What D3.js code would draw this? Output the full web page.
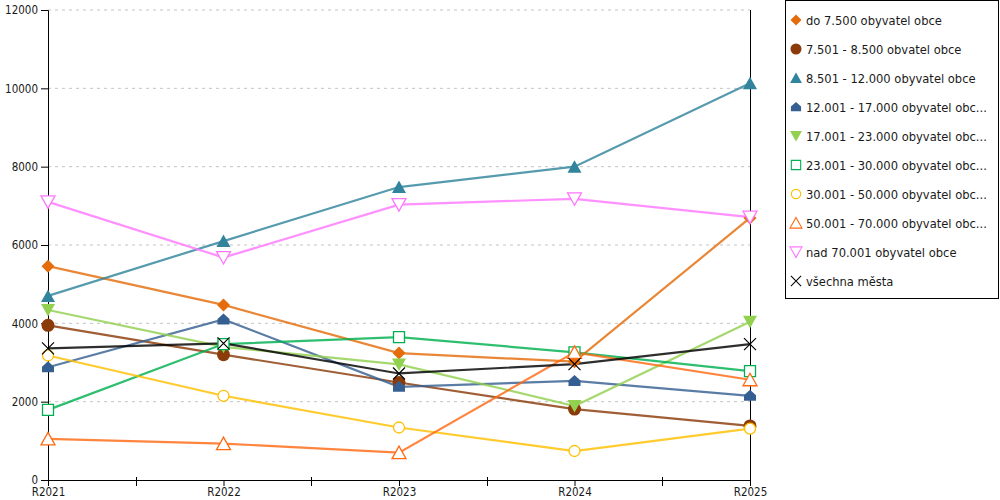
<!DOCTYPE html>
<meta charset="utf-8">
<script src="https://d3js.org/d3.v7.min.js"></script>
<style>
  body { margin: 0; background: #fff; }
  text { font-family: "DejaVu Sans Condensed", "DejaVu Sans", sans-serif; font-size: 11px; fill: #1a1a1a; }
</style>
<div id="chart"></div>
<script>

// data
var years = ["R2021", "R2022", "R2023", "R2024", "R2025"];
var yTicks = [0, 2000, 4000, 6000, 8000, 10000, 12000];

var seriesNames = [
  "do 7.500 obyvatel obce",
  "7.501 - 8.500 obvatel obce",
  "8.501 - 12.000 obyvatel obce",
  "12.001 - 17.000 obyvatel obc...",
  "17.001 - 23.000 obyvatel obc...",
  "23.001 - 30.000 obyvatel obc...",
  "30.001 - 50.000 obyvatel obc...",
  "50.001 - 70.000 obyvatel obc...",
  "nad 70.001 obyvatel obce",
  "všechna města"
];

var s1 = [5460, 4470, 3240, 3020, 6690];
var s2 = [3950, 3200, 2490, 1810, 1380];
var s3 = [4700, 6100, 7480, 8000, 10130];
var s4 = [2880, 4100, 2380, 2530, 2150];
var s5 = [4340, 3400, 2950, 1890, 4040];
var s6 = [1790, 3470, 3650, 3260, 2780];
var s7 = [3180, 2150, 1340, 740, 1310];
var s8 = [1050, 930, 700, 3260, 2560];
var s9 = [7100, 5680, 7030, 7180, 6710];
var s10 = [3360, 3490, 2720, 2960, 3470];

var values = [s1, s2, s3, s4, s5, s6, s7, s8, s9, s10];
var colors = ["#e46c0a", "#8b3a0a", "#31849b", "#365f91", "#92d050",
              "#00b050", "#ffc000", "#ff6a13", "#ff77ff", "#000000"];
var markers = ["diamond", "circle", "triangle", "house", "triangleDown",
               "square", "circle", "triangle", "triangleDown", "cross"];
var filled = [true, true, true, true, true, false, false, false, false, false];

var W = 1000, H = 500;
var svg = d3.select("#chart").append("svg")
  .attr("width", W)
  .attr("height", H);

var x = d3.scalePoint().domain(years).range([48, 750]);
var y = d3.scaleLinear().domain([0, 12000]).range([480, 10]);

// marker shapes, centred on 0,0
function shapePath(type) {
  if (type == "diamond") return "M0,-6.5L6.5,0L0,6.5L-6.5,0Z";
  if (type == "triangle") return "M0,-6.5L7,6L-7,6Z";
  if (type == "triangleDown") return "M-7,-6L7,-6L0,6.5Z";
  if (type == "house") return "M0,-6L6,-0.5L6,5L-6,5L-6,-0.5Z";
  if (type == "square") return "M-5.5,-5.5L5.5,-5.5L5.5,5.5L-5.5,5.5Z";
  if (type == "cross") return "M-6,-6L6,6M6,-6L-6,6";
  return null;
}

function drawMarker(g, type, color, isFilled) {
  var el;
  if (type == "circle") {
    el = g.append("circle").attr("r", isFilled ? 6.5 : 5.5);
  } else {
    el = g.append("path").attr("d", shapePath(type));
  }
  if (type == "cross") {
    el.attr("fill", "none").attr("stroke", color).attr("stroke-width", 1.2);
  } else if (isFilled) {
    el.attr("fill", color);
  } else {
    el.attr("fill", "#fff").attr("stroke", color).attr("stroke-width", 1.3);
  }
}

// grid lines
svg.append("g")
  .selectAll("line")
  .data(yTicks.filter(function(d) { return d > 0; }))
  .enter().append("line")
    .attr("x1", x.range()[0])
    .attr("x2", x.range()[1])
    .attr("y1", function(d) { return y(d); })
    .attr("y2", function(d) { return y(d); })
    .attr("stroke", "#c4c4c4")
    .attr("stroke-dasharray", "3,4");

// y axis
var yAxis = svg.append("g")
  .attr("transform", "translate(" + x.range()[0] + ",0)")
  .call(d3.axisLeft(y).tickValues(yTicks).tickSize(7).tickPadding(3).tickFormat(d3.format("d")));
yAxis.select(".domain").attr("stroke", "#000");
yAxis.selectAll(".tick line").attr("stroke", "#000");
yAxis.selectAll("text").style("font-size", "11.5px").attr("fill", "#1a1a1a");

// right border line
svg.append("line")
  .attr("x1", x.range()[1] + 0.5).attr("x2", x.range()[1] + 0.5)
  .attr("y1", y(12000)).attr("y2", y(0))
  .attr("stroke", "#000")
  .attr("shape-rendering", "crispEdges");

// x axis
var xAxis = svg.append("g")
  .attr("transform", "translate(0," + y(0) + ")")
  .call(d3.axisBottom(x).tickSize(6).tickPadding(2).tickSizeOuter(0));
xAxis.select(".domain").attr("stroke", "#000");
xAxis.selectAll(".tick line").attr("stroke", "#000");
xAxis.selectAll("text").style("font-size", "11.5px").attr("fill", "#1a1a1a");

// ticks between categories
var step = x.step();
svg.append("g")
  .selectAll("line")
  .data(years.slice(1))
  .enter().append("line")
    .attr("x1", function(d) { return x(d) - step / 2 + 0.5; })
    .attr("x2", function(d) { return x(d) - step / 2 + 0.5; })
    .attr("y1", y(0) - 3)
    .attr("y2", y(0) + 6)
    .attr("stroke", "#000")
    .attr("shape-rendering", "crispEdges");

// lines
var line = d3.line()
  .x(function(d, i) { return x(years[i]); })
  .y(function(d) { return y(d); });

svg.append("g")
  .selectAll("path")
  .data(values)
  .enter().append("path")
    .attr("d", line)
    .attr("fill", "none")
    .attr("stroke", function(d, i) { return colors[i]; })
    .attr("stroke-opacity", 0.82)
    .attr("stroke-width", 2.2);

// markers
values.forEach(function(vals, i) {
  vals.forEach(function(v, j) {
    var g = svg.append("g")
      .attr("transform", "translate(" + x(years[j]) + "," + y(v) + ")");
    drawMarker(g, markers[i], colors[i], filled[i]);
  });
});

// legend
var legend = svg.append("g");
legend.append("rect")
  .attr("x", 785.5).attr("y", 0.5)
  .attr("width", 213).attr("height", 298)
  .attr("fill", "#fff")
  .attr("stroke", "#000");

var item = legend.selectAll(".item")
  .data(seriesNames)
  .enter().append("g")
    .attr("class", "item")
    .attr("transform", function(d, i) { return "translate(796," + (20 + i * 29) + ")"; });

item.each(function(d, i) {
  var g = d3.select(this).append("g").attr("transform", "scale(0.85)");
  drawMarker(g, markers[i], colors[i], filled[i]);
});

item.append("text")
  .attr("x", 10)
  .attr("dy", "0.36em")
  .style("font-size", "12.8px")
  .text(function(d) { return d; });

</script>
